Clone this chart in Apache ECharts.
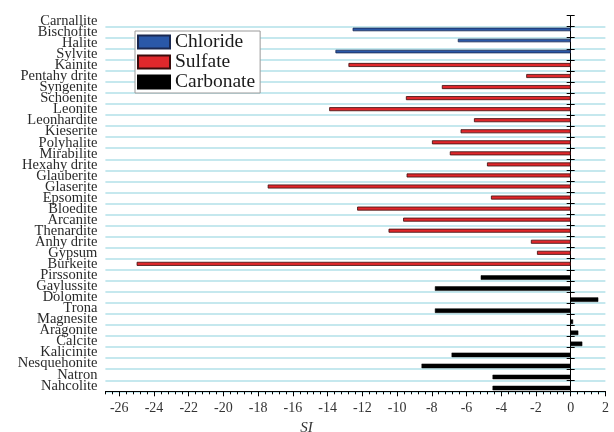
<!DOCTYPE html>
<html>
<head>
<meta charset="utf-8">
<script src="https://cdn.jsdelivr.net/npm/echarts@6/dist/echarts.min.js"></script>
<style>
  html, body { margin: 0; padding: 0; background: #ffffff; }
  #chart { width: 614px; height: 432px; }
</style>
</head>
<body>
<div id="chart"></div>
<script>
// Saturation indices (SI) of evaporite minerals, grouped by mineral family.
const chlorideMinerals = ['Carnallite', 'Bischofite', 'Halite', 'Sylvite'];
const chlorideSI = [null, -12.56, -6.50, -13.55];

const sulfateMinerals = [
  'Kainite', 'Pentahy drite', 'Syngenite', 'Schoenite', 'Leonite', 'Leonhardite',
  'Kieserite', 'Polyhalite', 'Mirabilite', 'Hexahy drite', 'Glauberite', 'Glaserite',
  'Epsomite', 'Bloedite', 'Arcanite', 'Thenardite', 'Anhy drite', 'Gypsum', 'Burkeite'
];
const sulfateSI = [
  -12.80, -2.56, -7.42, -9.49, -13.91, -5.57,
  -6.34, -7.99, -6.96, -4.82, -9.45, -17.45,
  -4.59, -12.30, -9.65, -10.49, -2.29, -1.94, -25.00
];

const carbonateMinerals = [
  'Pirssonite', 'Gaylussite', 'Dolomite', 'Trona', 'Magnesite', 'Aragonite',
  'Calcite', 'Kalicinite', 'Nesquehonite', 'Natron', 'Nahcolite'
];
const carbonateSI = [
  -5.18, -7.82, 1.59, -7.82, 0.14, 0.44,
  0.67, -6.86, -8.59, -4.50, -4.50
];

const siTicks = [-26, -24, -22, -20, -18, -16, -14, -12, -10, -8, -6, -4, -2, 0, 2];

const minerals = chlorideMinerals.concat(sulfateMinerals, carbonateMinerals);

// One value per mineral row; rows outside the family stay empty.
function familyData(names, values) {
  return minerals.map(function (m) {
    const i = names.indexOf(m);
    return i >= 0 ? values[i] : null;
  });
}

const serif = 'Liberation Serif';

const chart = echarts.init(document.getElementById('chart'), null, { renderer: 'canvas' });

const catAxisBase = {
  type: 'category',
  data: minerals,
  inverse: true,
  gridIndex: 0,
  position: 'left'
};

chart.setOption({
  backgroundColor: '#ffffff',
  animation: false,
  grid: {
    left: 105.4,
    right: 8.6,
    top: 15.65,
    bottom: 40.7,
    containLabel: false,
    outerBoundsMode: 'none'
  },
  legend: {
    orient: 'vertical',
    left: 135,
    top: 31,
    icon: 'rect',
    itemWidth: 32,
    itemHeight: 13,
    itemGap: 0,
    padding: [1, 5, 1, 2],
    backgroundColor: '#ffffff',
    borderColor: '#9a9a9a',
    borderWidth: 1,
    textStyle: { fontFamily: serif, fontSize: 19.5, color: '#1a1a1a', lineHeight: 18 },
    data: ['Chloride', 'Sulfate', 'Carbonate']
  },
  xAxis: [
    {
      // minor ticks and the axis line
      type: 'value',
      position: 'bottom',
      min: -26.8,
      max: 2,
      interval: 0.4,
      axisLine: { show: true, onZero: false, lineStyle: { color: '#000', width: 1 } },
      axisTick: { show: true, length: 3, lineStyle: { color: '#000', width: 1 } },
      axisLabel: { show: false },
      splitLine: { show: false }
    },
    {
      // major ticks, labels and name
      type: 'value',
      position: 'bottom',
      min: -26.8,
      max: 2,
      axisLine: { show: false, onZero: false },
      axisTick: { show: true, length: 5, customValues: siTicks, lineStyle: { color: '#000', width: 1 } },
      axisLabel: {
        show: true, customValues: siTicks, margin: 10,
        fontFamily: serif, fontSize: 14, color: '#333'
      },
      splitLine: { show: false },
      name: 'SI',
      nameLocation: 'middle',
      nameGap: 29,
      nameTextStyle: {
        fontFamily: serif, fontSize: 15, fontStyle: 'italic', color: '#333',
        padding: [0, 98, 0, 0]
      }
    }
  ],
  yAxis: [
    Object.assign({}, catAxisBase, {
      // mineral names and the row separators
      axisLine: { show: false, onZero: false },
      axisTick: { show: false },
      axisLabel: {
        interval: 0, margin: 8,
        fontFamily: serif, fontSize: 14.5, color: '#2a2a2a'
      },
      splitLine: {
        show: true,
        interval: function (index) { return index > 0; },
        lineStyle: { color: '#b2e1e9', width: 1.5 }
      }
    }),
    Object.assign({}, catAxisBase, {
      // zero line with outward ticks
      axisLine: { show: true, onZero: true, lineStyle: { color: '#000', width: 1 } },
      axisTick: {
        show: true, length: 4, interval: 0,
        lineStyle: { color: '#000', width: 1 }
      },
      axisLabel: { show: false },
      splitLine: { show: false }
    }),
    Object.assign({}, catAxisBase, {
      // inward ticks on the zero line
      axisLine: { show: false, onZero: true },
      axisTick: {
        show: true, inside: true, length: 4, interval: 0,
        lineStyle: { color: '#000', width: 1 }
      },
      axisLabel: { show: false },
      splitLine: { show: false }
    })
  ],
  series: [
    {
      name: 'Chloride',
      type: 'bar',
      xAxisIndex: 0,
      yAxisIndex: 0,
      barWidth: 3.5,
      barGap: '-40%',
      data: familyData(chlorideMinerals, chlorideSI),
      itemStyle: { color: '#2a58a8', borderColor: '#1a2850', borderWidth: 0.8 }
    },
    {
      name: 'Sulfate',
      type: 'bar',
      xAxisIndex: 0,
      yAxisIndex: 0,
      barWidth: 4,
      barGap: '-40%',
      data: familyData(sulfateMinerals, sulfateSI),
      itemStyle: { color: '#e0282c', borderColor: '#3a0c0c', borderWidth: 0.8 }
    },
    {
      name: 'Carbonate',
      type: 'bar',
      xAxisIndex: 0,
      yAxisIndex: 0,
      barWidth: 4.5,
      barGap: '-40%',
      data: familyData(carbonateMinerals, carbonateSI),
      itemStyle: { color: '#000000', borderColor: '#000000', borderWidth: 0.5 }
    }
  ]
});
</script>
</body>
</html>
